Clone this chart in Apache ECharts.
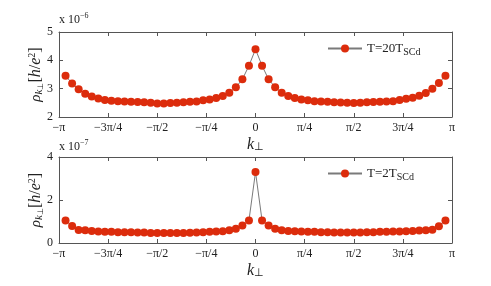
<!DOCTYPE html>
<html>
<head>
<meta charset="utf-8">
<script src="https://cdn.jsdelivr.net/npm/echarts@6/dist/echarts.min.js"></script>
<style>html,body{margin:0;padding:0;background:#fff}#c{width:491px;height:286px}</style>
</head>
<body>
<div id="c"></div>
<script>
// k values in units of pi/30
var kSteps = [-29,-28,-27,-26,-25,-24,-23,-22,-21,-20,-19,-18,-17,-16,-15,-14,-13,-12,-11,-10,-9,-8,-7,-6,-5,-4,-3,-2,-1,0,1,2,3,4,5,6,7,8,9,10,11,12,13,14,15,16,17,18,19,20,21,22,23,24,25,26,27,28,29];
// top panel (x 1e-6)
var rhoT20 = [3.46,3.18,2.98,2.82,2.72,2.65,2.60,2.57,2.56,2.55,2.54,2.53,2.52,2.50,2.48,2.48,2.49,2.50,2.52,2.54,2.55,2.59,2.62,2.67,2.74,2.86,3.05,3.33,3.81,4.39,3.81,3.33,3.05,2.86,2.74,2.67,2.62,2.59,2.56,2.55,2.54,2.52,2.51,2.50,2.49,2.50,2.52,2.53,2.54,2.55,2.56,2.60,2.64,2.68,2.75,2.85,3.00,3.20,3.46];
// bottom panel (x 1e-7)
var rhoT2 = [1.05,0.79,0.61,0.59,0.56,0.53,0.52,0.52,0.50,0.50,0.50,0.49,0.49,0.47,0.47,0.46,0.46,0.47,0.47,0.48,0.49,0.50,0.52,0.53,0.55,0.59,0.66,0.81,1.05,3.30,1.05,0.81,0.66,0.59,0.56,0.55,0.53,0.52,0.52,0.50,0.50,0.49,0.49,0.49,0.49,0.49,0.50,0.50,0.52,0.52,0.53,0.53,0.55,0.56,0.58,0.59,0.62,0.78,1.05];
var xTickLabels = ['\u2212\u03c0','\u22123\u03c0/4','\u2212\u03c0/2','\u2212\u03c0/4','0','\u03c0/4','\u03c0/2','3\u03c0/4','\u03c0'];
var seriesNames = ['T=20T', 'T=2T'];
var subText = 'SCd';

var SERIF = 'Liberation Serif';
var AX = '#555';
var RED = '#dc2c0c';
var LINE = '#7a7a7a';

function pair(a, b) { var o = []; for (var i = 0; i < a.length; i++) o.push([a[i], b[i]]); return o; }

function xAxes(gridIndex) {
  var base = {
    type: 'value', gridIndex: gridIndex, min: -30, max: 30, interval: 7.5,
    axisLine: { show: true, onZero: false, lineStyle: { color: AX, width: 1 } },
    axisTick: { show: true, inside: true, length: 4, lineStyle: { color: AX } },
    splitLine: { show: false }
  };
  var bottom = Object.assign({}, base, {
    position: 'bottom',
    axisLabel: { show: true, margin: 5, fontFamily: SERIF, fontSize: 12, color: '#222',
      formatter: function (v) { var i = Math.round(v / 7.5) + 4; return xTickLabels[i]; } },
    name: '{k|k}{s|\u22a5}', nameLocation: 'middle', nameGap: 19,
    nameTextStyle: { rich: {
      k: { fontFamily: SERIF, fontStyle: 'italic', fontSize: 16, color: '#222' },
      s: { fontFamily: SERIF, fontSize: 11, color: '#222', verticalAlign: 'bottom', padding: [6, 0, 0, 0] }
    } }
  });
  var top = Object.assign({}, base, { position: 'top', axisLabel: { show: false } });
  return [bottom, top];
}

function yAxes(gridIndex, min, max, interval) {
  var base = {
    type: 'value', gridIndex: gridIndex, min: min, max: max, interval: interval,
    axisLine: { show: true, onZero: false, lineStyle: { color: AX, width: 1 } },
    axisTick: { show: true, inside: true, length: 4, lineStyle: { color: AX } },
    splitLine: { show: false }
  };
  var left = Object.assign({}, base, {
    position: 'left',
    axisLabel: { show: true, margin: 6, fontFamily: SERIF, fontSize: 12, color: '#222' },
    name: '{r|\u03c1}{k|k}{s|\u22a5}{b|[}{i|h}{b|/}{i|e}{p|2}{b|]}',
    nameLocation: 'middle', nameGap: 14, nameRotate: 90, nameMoveOverlap: false,
    nameTextStyle: { rich: {
      r: { fontFamily: SERIF, fontStyle: 'italic', fontSize: 15, color: '#222' },
      k: { fontFamily: SERIF, fontStyle: 'italic', fontSize: 11, color: '#222', verticalAlign: 'bottom', padding: [5, 0, 0, 0] },
      s: { fontFamily: SERIF, fontSize: 8, color: '#222', verticalAlign: 'bottom', padding: [7, 0, 0, 0] },
      b: { fontFamily: SERIF, fontSize: 16, color: '#222' },
      i: { fontFamily: SERIF, fontStyle: 'italic', fontSize: 16, color: '#222' },
      p: { fontFamily: SERIF, fontSize: 10, color: '#222', verticalAlign: 'top', padding: [0, 0, 8, 0] }
    } }
  });
  var right = Object.assign({}, base, { position: 'right', axisLabel: { show: false } });
  return [left, right];
}

var xs = xAxes(0).concat(xAxes(1));
var ys = yAxes(0, 2, 5, 1).concat(yAxes(1, 0, 4, 2));

function lineSeries(name, xIdx, yIdx, data) {
  return {
    name: name, type: 'line', xAxisIndex: xIdx, yAxisIndex: yIdx,
    data: data, symbol: 'circle', symbolSize: 8, showSymbol: true,
    lineStyle: { color: LINE, width: 1 },
    itemStyle: { color: RED, borderColor: RED, borderWidth: 0 },
    animation: false
  };
}

function legendFor(idx, top) {
  return {
    data: [seriesNames[idx]], left: 322, top: top, itemWidth: 34, itemHeight: 10, itemGap: 4,
    formatter: function (n) { return '{a|' + n + '}{b|' + subText + '}'; },
    textStyle: { rich: {
      a: { fontFamily: SERIF, fontSize: 13, color: '#222' },
      b: { fontFamily: SERIF, fontSize: 10, color: '#222', verticalAlign: 'bottom', padding: [8, 0, 0, 0] }
    } }
  };
}

var chart = echarts.init(document.getElementById('c'), null, { renderer: 'canvas' });
chart.setOption({
  animation: false,
  backgroundColor: '#fff',
  grid: [
    { left: 59, right: 39, top: 32, height: 85 },
    { left: 59, right: 39, top: 157, height: 86 }
  ],
  xAxis: xs,
  yAxis: ys,
  legend: [legendFor(0, 37), legendFor(1, 162)],
  series: [
    lineSeries(seriesNames[0], 0, 0, pair(kSteps, rhoT20)),
    lineSeries(seriesNames[1], 2, 2, pair(kSteps, rhoT2))
  ],
  graphic: [
    { type: 'text', left: 59, top: 12, style: { text: 'x 10{e|\u22126}', fontFamily: SERIF, fontSize: 12, fill: '#222',
      rich: { e: { fontFamily: SERIF, fontSize: 8, verticalAlign: 'top', padding: [0, 0, 8, 0], fill: '#222' } } } },
    { type: 'text', left: 59, top: 139, style: { text: 'x 10{e|\u22127}', fontFamily: SERIF, fontSize: 12, fill: '#222',
      rich: { e: { fontFamily: SERIF, fontSize: 8, verticalAlign: 'top', padding: [0, 0, 8, 0], fill: '#222' } } } }
  ]
});
</script>
</body>
</html>
